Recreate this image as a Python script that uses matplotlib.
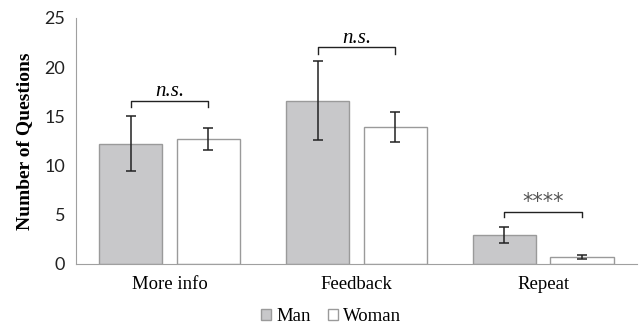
import numpy as np
import matplotlib.pyplot as plt
from matplotlib.patches import Patch

categories = ['More info', 'Feedback', 'Repeat']
man = [12.2, 16.6, 2.95]
man_err = [2.8, 4.05, 0.85]
woman = [12.7, 13.9, 0.74]
woman_err = [1.15, 1.55, 0.2]
sig_labels = ['n.s.', 'n.s.', '****']
bracket_y = [16.6, 22.05, 5.25]

fig = plt.figure(figsize=(6.4, 3.27), dpi=100)
ax = fig.add_axes([0.119, 0.193, 0.876, 0.752])

x = np.arange(len(categories))
w = 0.34
off = 0.208
ax.bar(x - off, man, width=w, color='#c8c8ca', edgecolor='#9a9a9a', linewidth=1)
ax.bar(x + off, woman, width=w, color='white', edgecolor='#9a9a9a', linewidth=1)
ax.errorbar(x - off, man, yerr=man_err, fmt='none', ecolor='#222222',
            elinewidth=1.1, capsize=3.5, capthick=1.1)
ax.errorbar(x + off, woman, yerr=woman_err, fmt='none', ecolor='#222222',
            elinewidth=1.1, capsize=3.5, capthick=1.1)

# significance brackets
for i in range(len(categories)):
    y = bracket_y[i]
    h = 0.7 if i < 2 else 0.5
    ax.plot([i - off, i - off, i + off, i + off], [y - h, y, y, y - h],
            color='#222222', lw=1)
    if sig_labels[i] == '****':
        ax.text(i, y + 1.0, sig_labels[i], ha='center', va='center',
                fontsize=15, family='DejaVu Sans', color='#555555')
    else:
        ax.text(i, y + 0.9, sig_labels[i], ha='center', va='center',
                fontsize=15, family='Liberation Serif', style='italic')

ax.set_xlim(-0.5, 2.5)
ax.set_ylim(0, 25)
ax.set_yticks([0, 5, 10, 15, 20, 25])
ax.set_xticks(x)
ax.set_xticklabels(categories, fontsize=13.5, family='Liberation Serif')
for lab in ax.get_yticklabels():
    lab.set_family('Lato')
    lab.set_fontsize(13)
    lab.set_color('#222222')
ax.tick_params(length=0, pad=8)
ax.tick_params(axis='x', pad=9)
for s in ['top', 'right']:
    ax.spines[s].set_visible(False)
for s in ['left', 'bottom']:
    ax.spines[s].set_color('#a0a0a0')
ax.set_ylabel('Number of Questions', fontsize=14, family='Liberation Serif',
              fontweight='bold', labelpad=8)

handles = [Patch(facecolor='#c8c8ca', edgecolor='#9a9a9a', label='Man'),
           Patch(facecolor='white', edgecolor='#9a9a9a', label='Woman')]
fig.legend(handles=handles, loc='lower center', bbox_to_anchor=(0.517, -0.045),
           ncol=2, frameon=False, prop={'family': 'Liberation Serif', 'size': 13.5},
           handlelength=0.55, handleheight=0.55, handletextpad=0.25, columnspacing=0.9)

fig.savefig('out.png', dpi=100)
